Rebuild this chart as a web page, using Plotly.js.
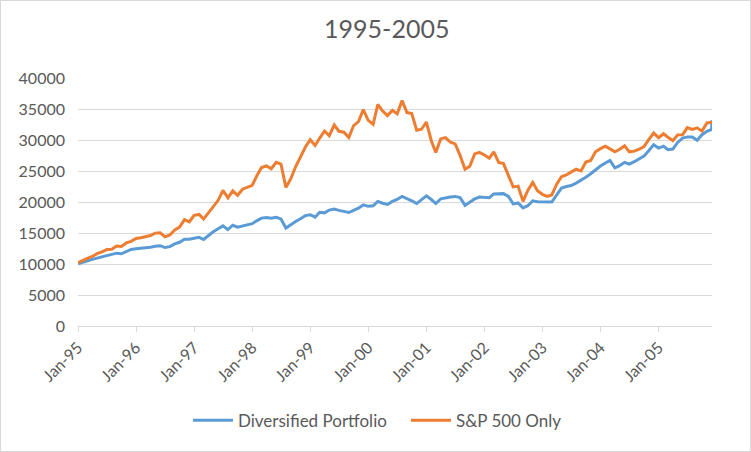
<!DOCTYPE html>
<html>
<head>
<meta charset="utf-8">
<script src="https://cdn.plot.ly/plotly-3.0.1.min.js"></script>
<style>
  html, body { margin: 0; padding: 0; background: #ffffff; }
  #wrap { position: relative; width: 751px; height: 452px; }
  #chart { width: 751px; height: 452px; }
  #frame { position: absolute; left: 0; top: 0; width: 749px; height: 450px; border: 1px solid #d9d9d9; pointer-events: none; }
</style>
</head>
<body>
<div id="wrap"><div id="chart"></div><div id="frame"></div></div>
<script>
// Monthly series, Jan-95 .. Dec-05, plus a final point in Dec-05
const startYear = 1995;
const monthsCount = 132;

const seriesNames = ["Diversified Portfolio", "S&P 500 Only"];

const diversified = [
  10050, 10250, 10500, 10750, 10950, 11150, 11350, 11550, 11750, 11650, 12000, 12350,
  12450, 12500, 12550, 12700, 12850, 12950, 12650, 12800, 13250, 13500, 14000, 14000,
  14150, 14300, 13950, 14600, 15200, 15700, 16150, 15550, 16250, 15950, 16150, 16250,
  16500, 17000, 17400, 17500, 17400, 17550, 17250, 15800, 16400, 16850, 17300, 17800,
  17950, 17550, 18350, 18250, 18700, 18850, 18650, 18500, 18300, 18650, 19000, 19550,
  19300, 19400, 20100, 19800, 19600, 20100, 20400, 20900, 20600, 20200, 19750, 20400,
  21000, 20400, 19750, 20500, 20700, 20800, 20900, 20700, 19450, 19900, 20500, 20800,
  20750, 20700, 21300, 21300, 21350, 20900, 19700, 19850, 19050, 19400, 20200, 20050,
  20000, 19950, 20000, 21150, 22250, 22500, 22650, 23050, 23500, 24000, 24550, 25200,
  25800, 26300, 26700, 25500, 25850, 26400, 26100, 26500, 26900, 27400, 28300, 29250,
  28700, 29000, 28450, 28550, 29600, 30300, 30500, 30500, 29950, 30850, 31400, 31700,
  33200
];

const sp500 = [
  10200, 10600, 10900, 11220, 11670, 11940, 12330, 12370, 12890, 12840, 13400, 13650,
  14110, 14240, 14380, 14600, 14980, 15040, 14380, 14680, 15500, 15940, 17150, 16810,
  17850, 17990, 17250, 18290, 19400, 20270, 21890, 20670, 21810, 21090, 22060, 22430,
  22680, 24310, 25550, 25810, 25370, 26410, 26120, 22330, 23760, 25680, 27250, 28830,
  30040, 29110, 30270, 31450, 30700, 32420, 31410, 31260, 30410, 32330, 32970, 34920,
  33170, 32540, 35730, 34660, 33930, 34780, 34220, 36350, 34420, 34280, 31570, 31730,
  32870, 29880, 28000, 30180, 30390, 29660, 29370, 27520, 25290, 25770, 27760, 28010,
  27590, 27070, 28100, 26380, 26200, 24340, 22440, 22570, 20110, 21880, 23170, 21810,
  21240, 20920, 21130, 22870, 24080, 24390, 24830, 25300, 25020, 26450, 26690, 28100,
  28610, 29010, 28570, 28110, 28510, 29050, 28090, 28200, 28510, 28940, 30100, 31120,
  30370, 31010, 30450, 29870, 30830, 30860, 32000, 31720, 31970, 31430, 32750, 32850,
  32700
];

const seriesColors = ["#5B9BD5", "#ED7D31"];

// date categories
const dates = [];
for (let i = 0; i < monthsCount; i++) {
  const y = startYear + Math.floor(i / 12);
  const m = (i % 12) + 1;
  dates.push(y + "-" + String(m).padStart(2, "0") + "-01");
}
dates.push("2005-12-02");

const tickYears = [];
for (let y = 1995; y <= 2005; y++) tickYears.push(y + "-01-01");

const fontFam = "Lato, 'Open Sans', sans-serif";
const grey = "#595959";

const traces = [
  { x: dates, y: diversified, name: seriesNames[0], type: "scatter", mode: "lines",
    line: { color: seriesColors[0], width: 3 } },
  { x: dates, y: sp500, name: seriesNames[1], type: "scatter", mode: "lines",
    line: { color: seriesColors[1], width: 3 } }
];

const layout = {
  width: 751, height: 452,
  margin: { l: 78, r: 39, t: 78, b: 126 },
  paper_bgcolor: "#ffffff", plot_bgcolor: "#ffffff",
  font: { family: fontFam, color: grey, size: 16 },
  title: { text: "1995-2005", font: { family: fontFam, size: 25, color: grey },
           x: 0.515, xanchor: "center", xref: "container", y: 0.935, yanchor: "middle", yref: "container" },
  xaxis: {
    type: "date", range: ["1995-01-01", "2005-12-03"],
    tickvals: tickYears, tickformat: "%b-%y", tickangle: -45,
    ticks: "outside", ticklen: 5, tickcolor: "#d9d9d9", tickwidth: 1,
    showline: true, linecolor: "#d9d9d9", linewidth: 1,
    showgrid: false, zeroline: false,
    tickfont: { family: fontFam, size: 16, color: grey }
  },
  yaxis: {
    range: [0, 40000], dtick: 5000, tick0: 0, tickformat: "d",
    showgrid: true, gridcolor: "#d9d9d9", gridwidth: 1,
    zeroline: false, showline: false, ticks: "",
    ticklabelstandoff: 12,
    tickfont: { family: fontFam, size: 16, color: grey }
  },
  showlegend: true,
  legend: {
    orientation: "h", x: 0.2503, xanchor: "left", xref: "container",
    y: 0.069, yanchor: "middle", yref: "container",
    font: { family: fontFam, size: 17, color: grey },
    itemwidth: 40, tracegroupgap: 0, entrywidth: 163, entrywidthmode: "pixels"
  }
};

Plotly.newPlot("chart", traces, layout, { displayModeBar: false, staticPlot: true });
</script>
</body>
</html>
